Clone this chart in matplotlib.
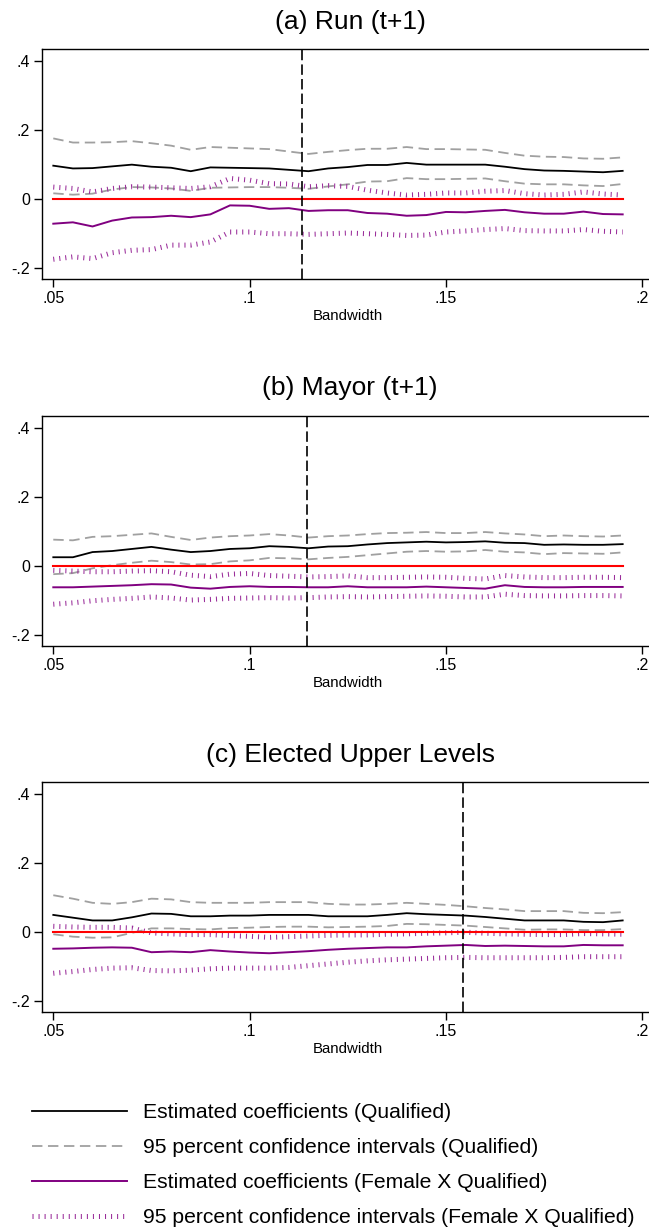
import matplotlib
matplotlib.use("Agg")
import matplotlib.pyplot as plt

plt.rcParams['font.family'] = ['Liberation Sans', 'DejaVu Sans']
plt.rcParams['lines.scale_dashes'] = False

bandwidth = [0.050, 0.055, 0.060, 0.065, 0.070, 0.075, 0.080, 0.085, 0.090, 0.095,
             0.100, 0.105, 0.110, 0.115, 0.120, 0.125, 0.130, 0.135, 0.140, 0.145,
             0.150, 0.155, 0.160, 0.165, 0.170, 0.175, 0.180, 0.185, 0.190, 0.195]

titles = ["(a) Run (t+1)", "(b) Mayor (t+1)", "(c) Elected Upper Levels"]
optimal_bw = [0.1133, 0.1145, 0.1544]

# Panel (a)
a_coef = [0.097,0.089,0.090,0.095,0.100,0.094,0.091,0.081,0.092,0.091,0.090,0.089,0.085,0.081,0.089,0.093,0.099,0.099,0.105,0.100,0.100,0.100,0.100,0.094,0.087,0.083,0.082,0.080,0.078,0.082]
a_hi = [0.176,0.164,0.164,0.165,0.168,0.162,0.155,0.143,0.151,0.149,0.147,0.145,0.138,0.131,0.137,0.142,0.146,0.146,0.151,0.145,0.145,0.144,0.143,0.134,0.126,0.123,0.122,0.118,0.117,0.121]
a_lo = [0.017,0.013,0.016,0.028,0.035,0.034,0.031,0.024,0.033,0.034,0.035,0.035,0.033,0.030,0.037,0.043,0.051,0.052,0.061,0.058,0.058,0.059,0.060,0.052,0.045,0.043,0.043,0.040,0.038,0.044]
a_fcoef = [-0.071,-0.067,-0.079,-0.062,-0.053,-0.052,-0.048,-0.052,-0.044,-0.018,-0.019,-0.028,-0.026,-0.034,-0.032,-0.032,-0.040,-0.042,-0.048,-0.046,-0.037,-0.038,-0.034,-0.031,-0.038,-0.042,-0.042,-0.036,-0.043,-0.044]
a_fhi = [0.035,0.031,0.021,0.031,0.036,0.035,0.033,0.031,0.036,0.060,0.055,0.045,0.044,0.036,0.039,0.037,0.026,0.018,0.012,0.014,0.018,0.018,0.023,0.025,0.016,0.012,0.014,0.021,0.015,0.012]
a_flo = [-0.174,-0.167,-0.172,-0.155,-0.148,-0.146,-0.133,-0.133,-0.124,-0.095,-0.095,-0.100,-0.100,-0.102,-0.100,-0.098,-0.100,-0.102,-0.105,-0.104,-0.095,-0.092,-0.088,-0.085,-0.091,-0.092,-0.092,-0.088,-0.093,-0.095]

# Panel (b)
b_coef = [0.025,0.025,0.040,0.043,0.049,0.055,0.047,0.040,0.043,0.049,0.051,0.057,0.055,0.051,0.056,0.057,0.062,0.066,0.068,0.070,0.068,0.069,0.071,0.067,0.066,0.061,0.062,0.061,0.061,0.063]
b_hi = [0.076,0.074,0.084,0.086,0.090,0.094,0.084,0.075,0.082,0.086,0.088,0.092,0.088,0.082,0.086,0.088,0.092,0.095,0.096,0.098,0.095,0.095,0.098,0.094,0.091,0.086,0.088,0.086,0.085,0.088]
b_lo = [-0.024,-0.021,-0.007,0.002,0.009,0.015,0.011,0.004,0.005,0.013,0.016,0.023,0.022,0.019,0.023,0.026,0.031,0.036,0.041,0.043,0.041,0.042,0.046,0.041,0.039,0.034,0.037,0.036,0.035,0.039]
b_fcoef = [-0.062,-0.062,-0.060,-0.058,-0.056,-0.053,-0.054,-0.063,-0.066,-0.061,-0.059,-0.061,-0.061,-0.062,-0.062,-0.059,-0.062,-0.062,-0.062,-0.060,-0.062,-0.064,-0.066,-0.056,-0.061,-0.062,-0.062,-0.061,-0.061,-0.061]
b_fhi = [-0.013,-0.015,-0.017,-0.017,-0.015,-0.014,-0.017,-0.027,-0.031,-0.024,-0.022,-0.028,-0.030,-0.032,-0.031,-0.029,-0.034,-0.034,-0.033,-0.032,-0.033,-0.036,-0.038,-0.028,-0.032,-0.034,-0.034,-0.033,-0.033,-0.034]
b_flo = [-0.111,-0.107,-0.101,-0.097,-0.094,-0.090,-0.093,-0.099,-0.097,-0.094,-0.093,-0.092,-0.093,-0.092,-0.090,-0.089,-0.090,-0.089,-0.088,-0.087,-0.088,-0.090,-0.090,-0.082,-0.086,-0.087,-0.087,-0.086,-0.086,-0.087]

# Panel (c)
c_coef = [0.050,0.042,0.034,0.034,0.043,0.054,0.053,0.046,0.046,0.048,0.048,0.050,0.050,0.050,0.046,0.046,0.046,0.050,0.055,0.052,0.050,0.048,0.044,0.039,0.034,0.034,0.034,0.030,0.029,0.034]
c_hi = [0.107,0.097,0.085,0.082,0.087,0.097,0.095,0.087,0.085,0.085,0.085,0.087,0.087,0.087,0.082,0.080,0.080,0.082,0.085,0.082,0.079,0.075,0.070,0.066,0.061,0.061,0.061,0.056,0.055,0.058]
c_lo = [-0.006,-0.013,-0.016,-0.015,-0.002,0.011,0.011,0.009,0.008,0.012,0.013,0.015,0.016,0.016,0.014,0.015,0.016,0.018,0.024,0.023,0.021,0.019,0.015,0.011,0.007,0.008,0.008,0.006,0.006,0.009]
c_fcoef = [-0.048,-0.047,-0.045,-0.044,-0.045,-0.058,-0.056,-0.058,-0.052,-0.056,-0.059,-0.061,-0.058,-0.055,-0.051,-0.048,-0.046,-0.044,-0.044,-0.041,-0.039,-0.037,-0.040,-0.039,-0.040,-0.041,-0.041,-0.037,-0.038,-0.038]
c_fhi = [0.017,0.015,0.014,0.014,0.012,-0.002,-0.005,-0.007,-0.007,-0.010,-0.012,-0.015,-0.013,-0.011,-0.009,-0.008,-0.008,-0.006,-0.005,-0.003,-0.002,0.000,-0.003,-0.005,-0.006,-0.007,-0.007,-0.004,-0.005,-0.006]
c_flo = [-0.119,-0.114,-0.108,-0.104,-0.103,-0.111,-0.112,-0.110,-0.106,-0.104,-0.104,-0.104,-0.102,-0.097,-0.092,-0.087,-0.083,-0.080,-0.078,-0.076,-0.074,-0.073,-0.074,-0.074,-0.074,-0.074,-0.073,-0.071,-0.071,-0.071]

panels = [
    (a_coef, a_hi, a_lo, a_fcoef, a_fhi, a_flo),
    (b_coef, b_hi, b_lo, b_fcoef, b_fhi, b_flo),
    (c_coef, c_hi, c_lo, c_fcoef, c_fhi, c_flo),
]

xticks = [0.05, 0.10, 0.15, 0.20]
xticklabels = [".05", ".1", ".15", ".2"]
yticks = [-0.2, 0.0, 0.2, 0.4]
yticklabels = ["-.2", "0", ".2", ".4"]
legend_labels = ["Estimated coefficients (Qualified)",
                 "95 percent confidence intervals (Qualified)",
                 "Estimated coefficients (Female X Qualified)",
                 "95 percent confidence intervals (Female X Qualified)"]

W, H = 649, 1227
fig = plt.figure(figsize=(W / 100, H / 100), dpi=100)

BLACK = "#000000"
GREY = "#a0a0a0"
PURPLE = "#800080"
PURPLE_DOT = "#9a2d9a"
RED = "#ff0000"

ax_left, ax_right = 41.7, 653.9
ax_tops = [49.3, 416.0, 782.3]
ax_h = 230.0
title_y = [21.5, 388.5, 755.0]

handles = None
for k, (coef, hi, lo, fcoef, fhi, flo) in enumerate(panels):
    top = ax_tops[k]
    ax = fig.add_axes([ax_left / W, 1 - (top + ax_h) / H, (ax_right - ax_left) / W, ax_h / H])
    h1, = ax.plot(bandwidth, coef, color=BLACK, lw=1.3, zorder=3)
    h2, = ax.plot(bandwidth, hi, color=GREY, lw=1.3, dashes=(7.5, 4.0), zorder=2)
    ax.plot(bandwidth, lo, color=GREY, lw=1.3, dashes=(7.5, 4.0), zorder=2)
    h3, = ax.plot(bandwidth, fcoef, color=PURPLE, lw=1.4, zorder=3)
    h4, = ax.plot(bandwidth, fhi, color=PURPLE_DOT, lw=3.6, dashes=(0.75, 3.6),
                  dash_capstyle='butt', zorder=2)
    ax.plot(bandwidth, flo, color=PURPLE_DOT, lw=3.6, dashes=(0.75, 3.6),
            dash_capstyle='butt', zorder=2)
    ax.plot(bandwidth, [0.0] * len(bandwidth), color=RED, lw=1.5, zorder=4)
    ax.axvline(optimal_bw[k], color=BLACK, lw=1.2, dashes=(7.5, 3.0), zorder=5)
    if handles is None:
        handles = [h1, h2, h3, h4]

    ax.set_xlim(0.04705, 0.20295)
    ax.set_ylim(-0.232, 0.434)
    ax.set_xticks(xticks)
    ax.set_xticklabels(xticklabels)
    ax.set_yticks(yticks)
    ax.set_yticklabels(yticklabels)
    ax.tick_params(axis='both', direction='out', length=5.5, width=1.0, color='black',
                   labelsize=11.5, pad=3)
    for sp in ax.spines.values():
        sp.set_linewidth(1.0)
        sp.set_color('black')
    ax.set_xlabel("Bandwidth", fontsize=10.8, labelpad=2)
    fig.text(350 / W, 1 - title_y[k] / H, titles[k], ha='center', va='center', fontsize=19)

leg = fig.legend(handles, legend_labels, loc='upper left',
                 bbox_to_anchor=(32 / W, 1 - 1103 / H), frameon=False,
                 fontsize=15.2, handlelength=4.5, handletextpad=0.75,
                 labelspacing=0.76, borderpad=0, borderaxespad=0)

fig.savefig("out.png", dpi=100)
